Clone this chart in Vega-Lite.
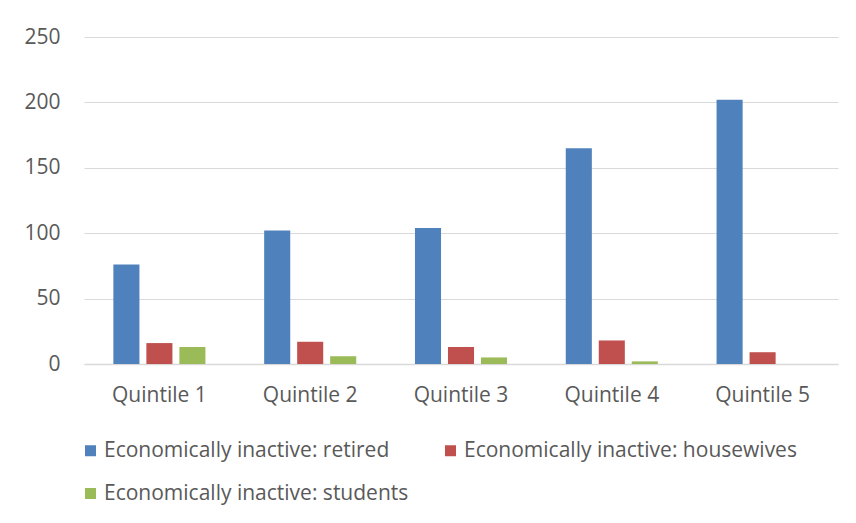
{
  "$schema": "https://vega.github.io/schema/vega-lite/v6.json",
  "width": 754,
  "height": 327,
  "autosize": "none",
  "padding": {"left": 84, "top": 37, "right": 18, "bottom": 159},
  "background": "white",
  "data": {"values": [
    {"q": "Quintile 1", "s": "Economically inactive: retired", "v": 76},
    {"q": "Quintile 1", "s": "Economically inactive: housewives", "v": 16},
    {"q": "Quintile 1", "s": "Economically inactive: students", "v": 13},
    {"q": "Quintile 2", "s": "Economically inactive: retired", "v": 102},
    {"q": "Quintile 2", "s": "Economically inactive: housewives", "v": 17},
    {"q": "Quintile 2", "s": "Economically inactive: students", "v": 6},
    {"q": "Quintile 3", "s": "Economically inactive: retired", "v": 104},
    {"q": "Quintile 3", "s": "Economically inactive: housewives", "v": 13},
    {"q": "Quintile 3", "s": "Economically inactive: students", "v": 5},
    {"q": "Quintile 4", "s": "Economically inactive: retired", "v": 165},
    {"q": "Quintile 4", "s": "Economically inactive: housewives", "v": 18},
    {"q": "Quintile 4", "s": "Economically inactive: students", "v": 2},
    {"q": "Quintile 5", "s": "Economically inactive: retired", "v": 202},
    {"q": "Quintile 5", "s": "Economically inactive: housewives", "v": 9},
    {"q": "Quintile 5", "s": "Economically inactive: students", "v": 0}
  ]},
  "mark": {"type": "bar"},
  "encoding": {
    "x": {"field": "q", "type": "nominal", "sort": null,
      "scale": {"paddingInner": 0, "paddingOuter": 0},
      "axis": {"title": null, "labelAngle": 0, "ticks": false, "domainColor": "#d9d9d9", "domainWidth": 1.5,
        "labelFont": "Open Sans", "labelFontSize": 21, "labelColor": "#595959", "labelPadding": 20}},
    "xOffset": {"field": "s", "type": "nominal", "sort": null,
      "scale": {"paddingInner": 0.21, "paddingOuter": 0.89}},
    "y": {"field": "v", "type": "quantitative",
      "scale": {"domain": [0, 250]},
      "axis": {"title": null, "values": [0, 50, 100, 150, 200, 250], "domain": false, "ticks": false,
        "gridColor": "#d9d9d9", "gridWidth": 1,
        "labelFont": "Open Sans", "labelFontSize": 21, "labelColor": "#595959", "labelPadding": 24}},
    "color": {"field": "s", "type": "nominal", "sort": null,
      "scale": {"range": ["#4F81BD", "#C0504D", "#9BBB59"]},
      "legend": {"title": null, "orient": "none", "legendX": -4, "legendY": 403, "direction": "horizontal", "columns": 2,
        "symbolType": "square", "symbolSize": 121, "symbolStrokeWidth": 0, "symbolOpacity": 1, "labelLimit": 500,
        "labelFont": "Open Sans", "labelFontSize": 21, "labelColor": "#595959", "labelOffset": 3, "columnPadding": 31, "rowPadding": 21}}
  },
  "config": {"view": {"stroke": null}}
}
